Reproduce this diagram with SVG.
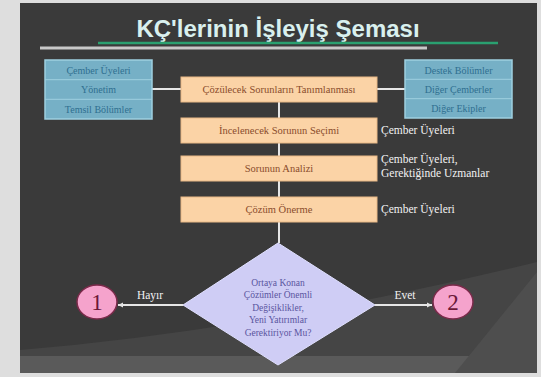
<svg xmlns="http://www.w3.org/2000/svg" width="541" height="377" viewBox="0 0 541 377">
<defs>
<style>
.blue{fill:#76b0c6;stroke:#9fd0e0;stroke-width:1.5}
.bt{font-family:"Liberation Serif",serif;font-size:10px;fill:#2f6f90;text-anchor:middle}
.ob{fill:#fbd3a6;stroke:#e8b886;stroke-width:1}
.ot{font-family:"Liberation Serif",serif;font-size:10.5px;fill:#8a4c2c;text-anchor:middle}
.wt{font-family:"Liberation Serif",serif;font-size:11.5px;fill:#f2f2f2}
.ln{stroke:#e6e6e6;stroke-width:2;fill:none}
.dt{font-family:"Liberation Serif",serif;font-size:9.5px;fill:#5a55a0;text-anchor:middle}
.circ{fill:#f5a3cc;stroke:#7a2a4a;stroke-width:1.5}
.ct{font-family:"Liberation Serif",serif;font-size:23px;fill:#6a1838;text-anchor:middle}
</style>
<marker id="ah" markerWidth="6" markerHeight="6" refX="5" refY="3" orient="auto" markerUnits="userSpaceOnUse">
<path d="M0,0.5 L5,3 L0,5.5 z" fill="#e6e6e6"/>
</marker>
</defs>
<rect x="0" y="0" width="541" height="377" fill="#dedede"/>
<rect x="20" y="3" width="517" height="370" fill="#3a3a3a"/>
<path d="M20,350 Q260,330 537,262 L537,373 L20,373 z" fill="#454545"/>
<path d="M20,356 L537,356 L537,373 L20,373 z" fill="#5a5a5a"/>
<path d="M455,373 L537,272 L537,373 z" fill="#4e4e4e"/>
<text x="278" y="37" font-family="Liberation Sans,Arial,sans-serif" font-size="24" font-weight="bold" fill="#d9f0ee" text-anchor="middle">KÇ'lerinin İşleyiş Şeması</text>
<line x1="98" y1="43" x2="498" y2="43" stroke="#2aa070" stroke-width="2.5"/>
<line x1="40" y1="48" x2="427" y2="48" stroke="#c8c8c8" stroke-width="3"/>
<g id="connectors">
<line class="ln" x1="152" y1="89" x2="181" y2="89"/>
<line class="ln" x1="377" y1="89" x2="405" y2="89"/>
<line class="ln" x1="279" y1="102" x2="279" y2="118"/>
<line class="ln" x1="279" y1="143" x2="279" y2="156"/>
<line class="ln" x1="279" y1="181" x2="279" y2="197"/>
<line class="ln" x1="279" y1="222" x2="279" y2="243"/>
<line class="ln" x1="183" y1="305" x2="118" y2="305" marker-end="url(#ah)"/>
<line class="ln" x1="375" y1="305" x2="432" y2="305" marker-end="url(#ah)"/>
<text class="wt" x="150" y="299" text-anchor="middle" font-size="13">Hayır</text>
<text class="wt" x="405" y="299" text-anchor="middle" font-size="13">Evet</text>
</g>
<g id="left-box">
<rect class="blue" x="45" y="60" width="107" height="59"/>
<line x1="45" y1="79.7" x2="152" y2="79.7" stroke="#9fd0e0" stroke-width="1"/>
<line x1="45" y1="99.3" x2="152" y2="99.3" stroke="#9fd0e0" stroke-width="1"/>
<text class="bt" x="98.5" y="73.5">Çember Üyeleri</text>
<text class="bt" x="98.5" y="93">Yönetim</text>
<text class="bt" x="98.5" y="112.5">Temsil Bölümler</text>
</g>
<g id="right-box">
<rect class="blue" x="405" y="60" width="107" height="58"/>
<line x1="405" y1="79.3" x2="512" y2="79.3" stroke="#9fd0e0" stroke-width="1"/>
<line x1="405" y1="98.7" x2="512" y2="98.7" stroke="#9fd0e0" stroke-width="1"/>
<text class="bt" x="458.5" y="73.5">Destek Bölümler</text>
<text class="bt" x="458.5" y="92.5">Diğer Çemberler</text>
<text class="bt" x="458.5" y="112">Diğer Ekipler</text>
</g>
<g id="step1">
<rect class="ob" x="181" y="77" width="196" height="25"/>
<text class="ot" x="279" y="93">Çözülecek Sorunların Tanımlanması</text>
</g>
<g id="step2">
<rect class="ob" x="181" y="118" width="196" height="25"/>
<text class="ot" x="279" y="134">İncelenecek Sorunun Seçimi</text>
<text class="wt" x="381" y="134">Çember Üyeleri</text>
</g>
<g id="step3">
<rect class="ob" x="181" y="156" width="196" height="25"/>
<text class="ot" x="279" y="172">Sorunun Analizi</text>
<text class="wt" x="381" y="163">Çember Üyeleri,</text>
<text class="wt" x="381" y="177">Gerektiğinde Uzmanlar</text>
</g>
<g id="step4">
<rect class="ob" x="181" y="197" width="196" height="25"/>
<text class="ot" x="279" y="213">Çözüm Önerme</text>
<text class="wt" x="381" y="213">Çember Üyeleri</text>
</g>
<g id="decision">
<polygon points="278,243 375,305 278,365 183,305" fill="#cfcdf5" stroke="#e0e0ff" stroke-width="1"/>
<text class="dt" x="278" y="286">Ortaya Konan</text>
<text class="dt" x="278" y="298">Çözümler Önemli</text>
<text class="dt" x="278" y="311">Değişiklikler,</text>
<text class="dt" x="278" y="323">Yeni Yatırımlar</text>
<text class="dt" x="278" y="336">Gerektiriyor Mu?</text>
</g>
<g id="end1">
<ellipse class="circ" cx="97" cy="302" rx="20" ry="17"/>
<text class="ct" x="97" y="310">1</text>
</g>
<g id="end2">
<ellipse class="circ" cx="453" cy="302" rx="20" ry="17"/>
<text class="ct" x="453" y="310">2</text>
</g>
</svg>
